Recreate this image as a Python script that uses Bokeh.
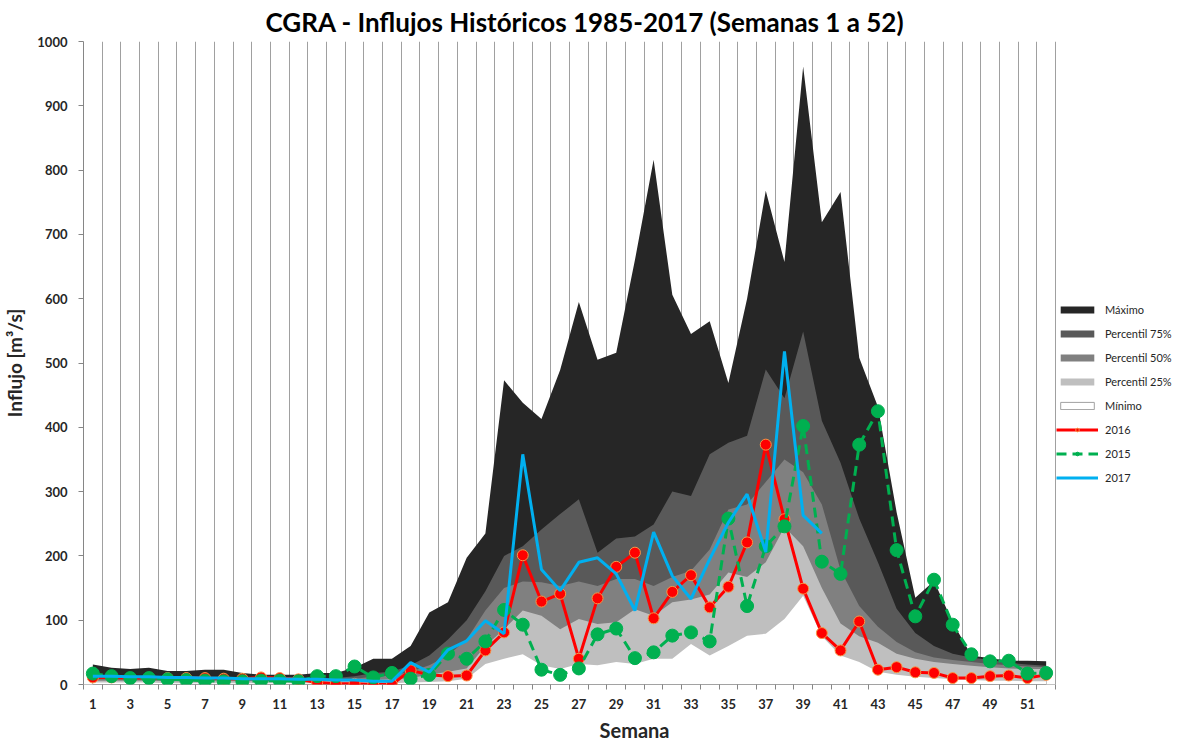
from bokeh.plotting import figure
from bokeh.models import FixedTicker, Legend, LegendItem, Range1d
from bokeh.embed import file_html
from bokeh.resources import INLINE

weeks = list(range(1, 53))
weeks_2017 = list(range(1, 41))

maximo = [31, 26, 24, 26, 21, 21, 23, 23, 18, 15,
          15, 15, 18, 18, 26, 40, 40, 60, 112, 128,
          197, 235, 473, 438, 413, 489, 595, 505, 516, 660,
          816, 606, 545, 565, 469, 600, 768, 657, 961, 719,
          766, 508, 432, 268, 135, 161, 97, 45, 41, 37,
          37, 36]
p75 = [13, 13, 13, 13, 11, 11, 11, 11, 10, 9,
       9, 9, 9, 10, 13, 18, 20, 30, 45, 70,
       100, 145, 200, 215, 241, 265, 288, 205, 227, 230,
       249, 300, 293, 358, 376, 387, 490, 445, 549, 410,
       345, 258, 190, 118, 80, 60, 48, 42, 38, 34,
       31, 29]
p50 = [8, 8, 8, 8, 7, 7, 7, 7, 7, 6,
       6, 6, 6, 7, 9, 12, 14, 20, 30, 45,
       70, 115, 150, 160, 159, 153, 160, 153, 164, 164,
       153, 167, 177, 210, 272, 280, 315, 350, 330, 280,
       178, 122, 90, 66, 50, 42, 38, 35, 32, 30,
       28, 27]
p25 = [6, 6, 6, 6, 5, 5, 5, 5, 5, 5,
       5, 5, 5, 5, 6, 7, 8, 10, 15, 20,
       25, 60, 86, 115, 107, 86, 102, 94, 97, 117,
       107, 128, 132, 140, 174, 167, 190, 245, 215, 150,
       95, 75, 65, 48, 40, 35, 32, 29, 27, 25,
       24, 24]
minimo = [3, 3, 3, 3, 2, 2, 2, 2, 2, 2,
          2, 2, 2, 2, 2, 2, 2, 3, 4, 5,
          9, 32, 40, 47, 30, 24, 32, 30, 35, 32,
          40, 40, 63, 45, 60, 76, 79, 102, 138, 75,
          45, 35, 20, 15, 12, 10, 8, 7, 6, 6,
          5, 5]
y2016 = [11, 11, 10, 10, 10, 10, 10, 9, 9, 11,
         10, 8, 3, 1, 1, 0, 0, 22, 15, 13,
         14, 53, 81, 201, 129, 141, 40, 134, 183, 205,
         103, 144, 170, 120, 152, 221, 373, 257, 149, 80,
         53, 98, 23, 27, 19, 18, 10, 10, 13, 14,
         10, 15]
y2015 = [17, 13, 10, 10, 8, 7, 6, 5, 5, 6,
         6, 5, 13, 13, 28, 11, 18, 9, 15, 48,
         40, 67, 116, 93, 23, 15, 25, 78, 87, 41,
         50, 76, 81, 67, 258, 122, 215, 246, 402, 191,
         172, 373, 425, 209, 106, 163, 93, 47, 36, 37,
         17, 18]
y2017 = [13, 13, 12, 12, 11, 11, 10, 10, 9, 9,
         9, 8, 8, 7, 7, 5, 5, 34, 19, 54,
         68, 99, 79, 358, 179, 146, 190, 197, 172, 115,
         237, 169, 133, 195, 252, 296, 206, 518, 263, 235]

x_labels = list(range(1, 53, 2))
y_ticks = list(range(0, 1001, 100))
boundaries = [i + 0.5 for i in range(0, 53)]

FONT = "Lato"
TXT = "#262626"

W, H = 1185, 744
LEFT, TOP, BOTTOM = 83, 41, 58
PLOT_W = 972                       # width of the category area in px
x_start, x_stop = 0.5, 52.5
week_px = PLOT_W / (x_stop - x_start)
x_end = x_stop + (W - LEFT - PLOT_W) / week_px   # blank room for the legend

p = figure(width=W, height=H, output_backend="svg", toolbar_location=None,
           x_range=Range1d(x_start, x_end), y_range=Range1d(0, 1000),
           min_border_left=LEFT, min_border_right=0, min_border_top=TOP,
           min_border_bottom=BOTTOM)
p.outline_line_color = None
p.background_fill_color = "white"

p.title.text = "CGRA - Influjos Históricos 1985-2017 (Semanas 1 a 52)"
p.title.align = "left"
p.title.offset = 182
p.title.text_font = FONT
p.title.text_font_size = "26px"
p.title.text_font_style = "bold"
p.title.text_color = "#000000"
p.title.standoff = 4
p.title.vertical_align = "top"

# grid: vertical lines at category boundaries only
p.ygrid.visible = False
p.xgrid.ticker = FixedTicker(ticks=boundaries)
p.xgrid.grid_line_color = "#a0a0a0"
p.xgrid.grid_line_width = 1

# areas
r_max = p.varea(x=weeks, y1=0, y2=maximo, fill_color="#262626")
r_p75 = p.varea(x=weeks, y1=0, y2=p75, fill_color="#595959")
r_p50 = p.varea(x=weeks, y1=0, y2=p50, fill_color="#808080")
r_p25 = p.varea(x=weeks, y1=0, y2=p25, fill_color="#bfbfbf")
r_min = p.varea(x=weeks, y1=0, y2=minimo, fill_color="white")
# legend proxy for "Mínimo" (white box with a thin border), kept out of view
r_min_leg = p.quad(left=[x_end + 1], right=[x_end + 2], top=[-1], bottom=[-2],
                   fill_color="white", line_color="#a0a0a0", line_width=1)

# bottom axis line restricted to the category area
p.segment(x0=[x_start], y0=[0], x1=[x_stop], y1=[0], line_color="#868686", line_width=1)

# lines
l16 = p.line(weeks, y2016, line_color="#ff0000", line_width=3)
s16 = p.scatter(weeks, y2016, size=11, fill_color="#ff0000", line_color="#f79646",
                line_width=1)
l15 = p.line(weeks, y2015, line_color="#00b050", line_width=3, line_dash="10 6")
s15 = p.scatter(weeks, y2015, size=13, fill_color="#00b050", line_color="#00b050")
l17 = p.line(weeks_2017, y2017, line_color="#00b0f0", line_width=3)

# axes
xa = p.xaxis[0]
xa.ticker = FixedTicker(ticks=x_labels, minor_ticks=boundaries)
xa.major_tick_out = 0
xa.major_tick_in = 0
xa.minor_tick_out = 5
xa.minor_tick_in = 0
xa.minor_tick_line_color = "#868686"
xa.axis_line_color = None
xa.major_label_standoff = 9
xa.major_label_text_font = FONT
xa.major_label_text_font_size = "13px"
xa.major_label_text_font_style = "bold"
xa.major_label_text_color = TXT
xa.axis_label = "Semana"
xa.axis_label_text_font = FONT
xa.axis_label_text_font_size = "20px"
xa.axis_label_text_font_style = "bold"
xa.axis_label_text_color = TXT
xa.axis_label_standoff = 6

ya = p.yaxis[0]
ya.ticker = FixedTicker(ticks=y_ticks, minor_ticks=[])
ya.major_tick_out = 5
ya.major_tick_in = 0
ya.major_tick_line_color = "#868686"
ya.axis_line_color = "#868686"
ya.major_label_standoff = 11
ya.major_label_text_font = FONT
ya.major_label_text_font_size = "13px"
ya.major_label_text_font_style = "bold"
ya.major_label_text_color = TXT
ya.axis_label = "Influjo [m³/s]"
ya.axis_label_text_font = FONT
ya.axis_label_text_font_size = "19px"
ya.axis_label_text_font_style = "bold"
ya.axis_label_text_color = TXT
ya.axis_label_standoff = 8

legend = Legend(items=[
    LegendItem(label="Máximo", renderers=[r_max]),
    LegendItem(label="Percentil 75%", renderers=[r_p75]),
    LegendItem(label="Percentil 50%", renderers=[r_p50]),
    LegendItem(label="Percentil 25%", renderers=[r_p25]),
    LegendItem(label="Mínimo", renderers=[r_min_leg]),
    LegendItem(label="2016", renderers=[l16, s16]),
    LegendItem(label="2015", renderers=[l15, s15]),
    LegendItem(label="2017", renderers=[l17]),
], location=(PLOT_W + 1, 197))
legend.border_line_color = None
legend.background_fill_alpha = 0
legend.padding = 5
legend.margin = 0
legend.spacing = 4
legend.label_height = 20
legend.glyph_height = 9
legend.glyph_width = 42
legend.label_standoff = 7
legend.label_text_font = FONT
legend.label_text_font_size = "11px"
legend.label_text_color = TXT
p.add_layout(legend)

open("out.html", "w").write(file_html(p, INLINE))
